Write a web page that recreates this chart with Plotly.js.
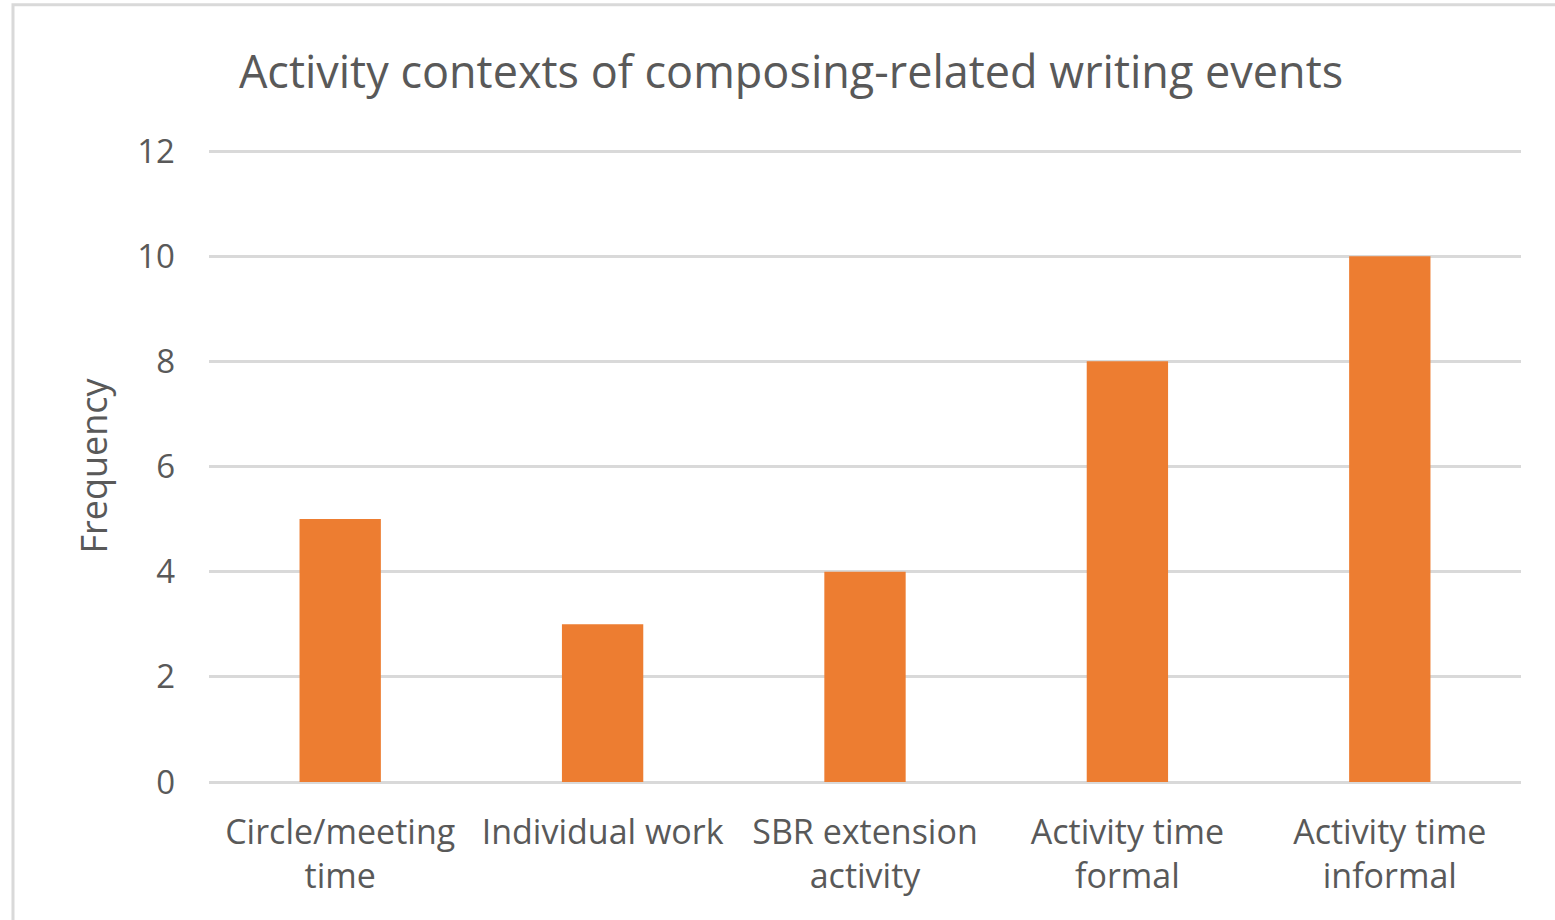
<!DOCTYPE html>
<html>
<head>
<meta charset="utf-8">
<script src="https://cdn.plot.ly/plotly-3.0.1.min.js"></script>
<style>html,body{margin:0;padding:0;background:#fff;}#chart{width:1555px;height:920px;}</style>
</head>
<body>
<div id="chart"></div>
<script>
const categories = ["Circle/meeting<br>time", "Individual work", "SBR extension<br>activity", "Activity time<br>formal", "Activity time<br>informal"];
const frequency = [5, 3, 4, 8, 10];
const yTicks = [0, 2, 4, 6, 8, 10, 12];

const FONT = "Open Sans, Noto Sans, sans-serif";
const GRAY = "#595959";

const trace = {
  type: "bar",
  x: categories,
  y: frequency,
  marker: {color: "#ED7D31"},
  hoverinfo: "x+y"
};

const layout = {
  width: 1555,
  height: 920,
  margin: {l: 209, r: 34, t: 150, b: 138},
  paper_bgcolor: "#ffffff",
  plot_bgcolor: "#ffffff",
  bargap: 0.69,
  showlegend: false,
  title: {
    text: "Activity contexts of composing-related writing events",
    font: {family: FONT, size: 45, color: GRAY},
    x: 0.5087, xref: "container", xanchor: "center",
    y: 0.922, yref: "container", yanchor: "middle"
  },
  xaxis: {
    tickfont: {family: FONT, size: 34, color: GRAY},
    showgrid: false,
    showline: false,
    ticks: "",
    ticklabelstandoff: 27,
    fixedrange: true
  },
  yaxis: {
    range: [0, 12.02],
    tickvals: yTicks,
    ticktext: yTicks.map(String),
    tickfont: {family: FONT, size: 33, color: GRAY},
    gridcolor: "#d9d9d9",
    gridwidth: 3,
    zeroline: true,
    zerolinecolor: "#d9d9d9",
    zerolinewidth: 3,
    showline: false,
    ticks: "",
    ticklabelstandoff: 33,
    title: {text: "Frequency", font: {family: FONT, size: 36, color: GRAY}, standoff: 18},
    fixedrange: true
  },
  shapes: [{
    type: "rect", xref: "paper", yref: "paper",
    x0: -0.1494, x1: 1.1, y0: -0.2266, y1: 1.2298,
    line: {color: "#d9d9d9", width: 3},
    fillcolor: "rgba(0,0,0,0)",
    layer: "below"
  }]
};

Plotly.newPlot("chart", [trace], layout, {displayModeBar: false, staticPlot: true});
</script>
</body>
</html>
